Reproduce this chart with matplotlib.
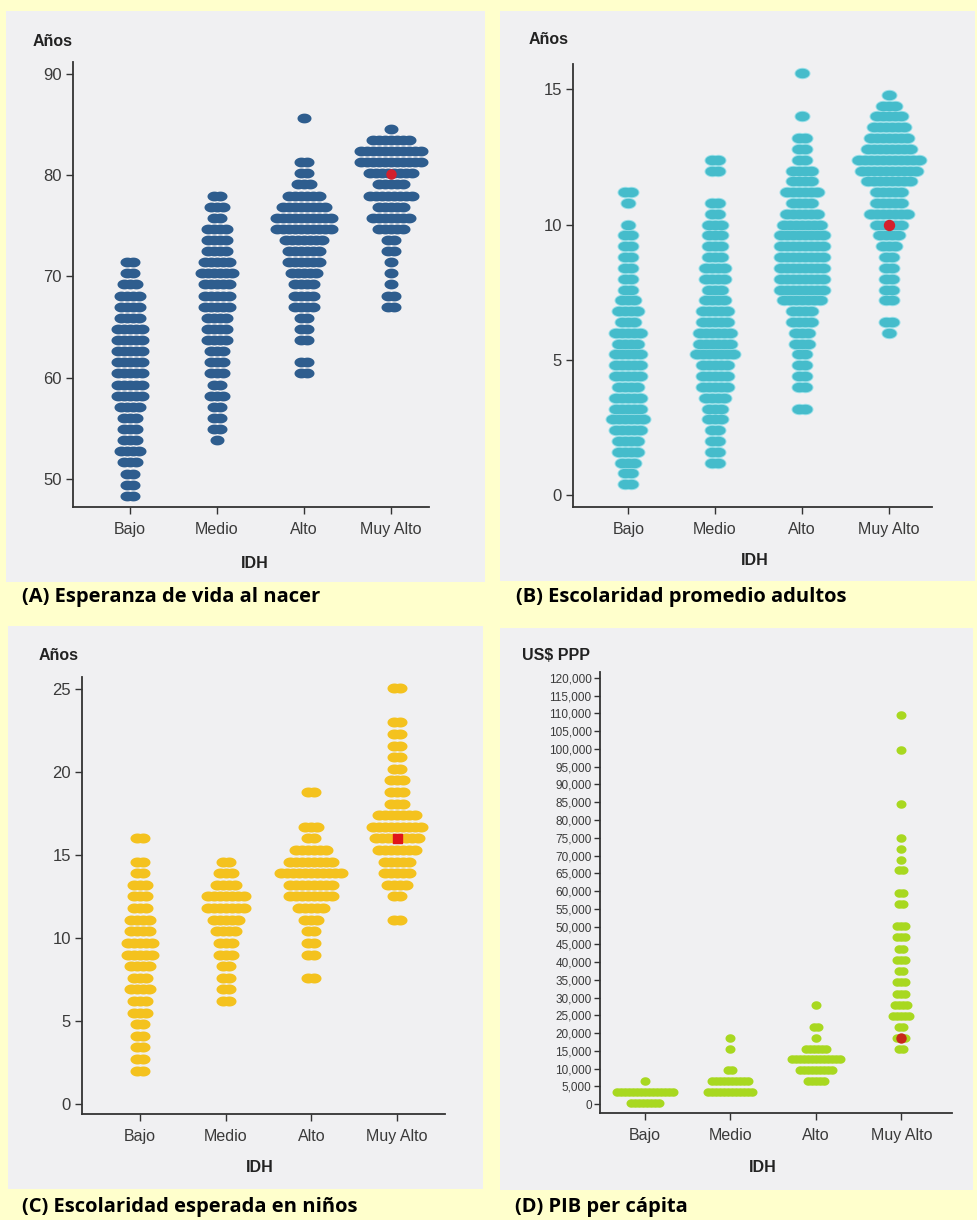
import numpy as np
import matplotlib.pyplot as plt
from matplotlib.path import Path
from matplotlib.patches import Rectangle

plt.rcParams['font.family'] = 'sans-serif'
plt.rcParams['font.sans-serif'] = ['Liberation Sans', 'DejaVu Sans']

W, H = 978, 1220
DPI = 100

categorias = ["Bajo", "Medio", "Alto", "Muy Alto"]

# (A) Esperanza de vida al nacer: filas de puntos (nivel -> puntos por fila)
a_niveles = [48.3, 49.4, 50.5, 51.6, 52.7, 53.8, 54.9, 56.0, 57.1, 58.2, 59.3, 60.4,
             61.5, 62.6, 63.7, 64.8, 65.9, 67.0, 68.1, 69.2, 70.3, 71.4, 72.5, 73.6,
             74.7, 75.8, 76.9, 78.0, 79.1, 80.2, 81.3, 82.4, 83.5, 84.6, 85.7]
a_bajo = [2, 2, 2, 3, 4, 3, 3, 3, 4, 5, 5, 5, 5, 5, 5, 5, 4, 4, 4, 3, 2, 2,
          0, 0, 0, 0, 0, 0, 0, 0, 0, 0, 0, 0, 0]
a_medio = [0, 0, 0, 0, 0, 1, 2, 2, 2, 3, 2, 3, 3, 3, 4, 4, 4, 5, 5, 5, 6, 5,
           4, 4, 4, 2, 3, 2, 0, 0, 0, 0, 0, 0, 0]
a_alto = [0, 0, 0, 0, 0, 0, 0, 0, 0, 0, 0, 2, 2, 0, 2, 2, 2, 4, 4, 4, 5, 6,
          6, 7, 10, 10, 8, 6, 3, 2, 2, 0, 0, 0, 1]
a_muy_alto = [0, 0, 0, 0, 0, 0, 0, 0, 0, 0, 0, 0, 0, 0, 0, 0, 0, 2, 2, 1, 1, 1,
              2, 2, 5, 7, 5, 8, 5, 8, 11, 11, 7, 1, 0]

# (B) Escolaridad promedio adultos
b_niveles = [0.4, 0.8, 1.2, 1.6, 2.0, 2.4, 2.8, 3.2, 3.6, 4.0, 4.4, 4.8, 5.2, 5.6,
             6.0, 6.4, 6.8, 7.2, 7.6, 8.0, 8.4, 8.8, 9.2, 9.6, 10.0, 10.4, 10.8,
             11.2, 11.6, 12.0, 12.4, 12.8, 13.2, 13.6, 14.0, 14.4, 14.8, 15.2, 15.6]
b_bajo = [2, 2, 3, 4, 4, 5, 6, 5, 5, 4, 5, 5, 5, 4, 5, 3, 4, 3, 2, 2, 2, 2, 2, 2,
          1, 0, 1, 2, 0, 0, 0, 0, 0, 0, 0, 0, 0, 0, 0]
b_medio = [0, 0, 2, 2, 2, 2, 3, 3, 4, 5, 5, 5, 7, 6, 6, 5, 5, 4, 3, 4, 4, 3, 3, 3,
           3, 2, 2, 0, 0, 2, 2, 0, 0, 0, 0, 0, 0, 0, 0]
b_alto = [0, 0, 0, 0, 0, 0, 0, 2, 0, 2, 2, 2, 2, 3, 3, 4, 4, 7, 8, 8, 8, 8, 8, 8,
          7, 6, 4, 6, 4, 4, 2, 2, 2, 0, 1, 0, 0, 0, 1]
b_muy_alto = [0, 0, 0, 0, 0, 0, 0, 0, 0, 0, 0, 0, 0, 0, 1, 2, 0, 2, 2, 2, 2, 2, 3, 4,
              5, 7, 5, 5, 8, 10, 11, 8, 7, 6, 5, 3, 1, 0, 0]

# (C) Escolaridad esperada en niños
c_niveles = [2.0, 2.7, 3.4, 4.1, 4.8, 5.5, 6.2, 6.9, 7.6, 8.3, 9.0, 9.7, 10.4, 11.1,
             11.8, 12.5, 13.2, 13.9, 14.6, 15.3, 16.0, 16.7, 17.4, 18.1, 18.8, 19.5,
             20.2, 20.9, 21.6, 22.3, 23.0, 23.7, 24.4, 25.1]
c_bajo = [2, 2, 2, 2, 2, 3, 3, 4, 3, 4, 5, 5, 4, 4, 3, 3, 3, 2, 2, 0, 2,
          0, 0, 0, 0, 0, 0, 0, 0, 0, 0, 0, 0, 0]
c_medio = [0, 0, 0, 0, 0, 0, 2, 2, 2, 2, 3, 3, 4, 5, 7, 7, 4, 3, 2,
           0, 0, 0, 0, 0, 0, 0, 0, 0, 0, 0, 0, 0, 0, 0]
c_alto = [0, 0, 0, 0, 0, 0, 0, 0, 2, 0, 2, 2, 2, 3, 5, 8, 8, 11, 8, 6, 2, 3, 0, 0, 2,
          0, 0, 0, 0, 0, 0, 0, 0, 0]
c_muy_alto = [0, 0, 0, 0, 0, 0, 0, 0, 0, 0, 0, 0, 0, 2, 0, 2, 4, 5, 5, 7, 8, 9, 7, 3,
              3, 3, 2, 2, 2, 2, 2, 0, 0, 2]

# (D) PIB per cápita (US$ PPP)
d_niveles = [200, 3400, 6500, 9700, 12600, 15500, 18600, 21800, 24900, 28000, 31100,
             34500, 37600, 40700, 43700, 47000, 50100, 56200, 59300, 65800, 68600,
             71700, 74800, 84500, 99800, 109500]
d_bajo = [8, 15, 1, 0, 0, 0, 0, 0, 0, 0, 0, 0, 0, 0, 0, 0, 0, 0, 0, 0, 0, 0, 0, 0, 0, 0]
d_medio = [0, 12, 10, 2, 0, 1, 1, 0, 0, 0, 0, 0, 0, 0, 0, 0, 0, 0, 0, 0, 0, 0, 0, 0, 0, 0]
d_alto = [0, 0, 5, 9, 13, 6, 1, 2, 0, 1, 0, 0, 0, 0, 0, 0, 0, 0, 0, 0, 0, 0, 0, 0, 0, 0]
d_muy_alto = [0, 0, 0, 0, 0, 2, 3, 2, 5, 4, 3, 3, 2, 3, 2, 3, 3, 2, 2, 2, 1, 1, 1, 1, 1, 1]

# país destacado (punto rojo, en "Muy Alto")
destacado = [80.1, 10.0, 16.0, 18600]

d_ticks = list(range(0, 120001, 5000))

fondo = '#FFFFCC'
gris = '#F0F0F2'
rojo = '#D3202C'


def caja(x0, y0, x1, y1):
    return [x0 / W, 1 - y1 / H, (x1 - x0) / W, (y1 - y0) / H]


def texto(x, y, s, **kw):
    fig.text(x / W, 1 - y / H, s, **kw)


def marcador(ratio):
    t = np.linspace(0, 2 * np.pi, 64)
    return Path(np.column_stack([np.cos(t), ratio * np.sin(t)]), closed=True)


def dibujar(ax, niveles, columnas, color, ancho, alto, paso, halo=None):
    x0, x1 = ax.get_xlim()
    px_unidad = ax.get_position().width * W / (x1 - x0)
    d = paso / px_unidad
    m = marcador(alto / ancho)
    for i, cuentas in enumerate(columnas):
        xs, ys = [], []
        for nivel, n in zip(niveles, cuentas):
            for k in range(n):
                xs.append(i + (k - (n - 1) / 2) * d)
                ys.append(nivel)
        if halo:
            mh = marcador((alto + 2) / (ancho + 2))
            ax.scatter(xs, ys, s=((ancho + 2) * 72 / DPI) ** 2, marker=mh,
                       color=halo, linewidths=0, zorder=2)
        ax.scatter(xs, ys, s=(ancho * 72 / DPI) ** 2, marker=m, color=color,
                   linewidths=0, zorder=3)


def estilo(ax, xlim, ylim, yticks, ylabels, fs_y):
    ax.set_facecolor('none')
    ax.set_xlim(*xlim)
    ax.set_ylim(*ylim)
    for sp in ['top', 'right']:
        ax.spines[sp].set_visible(False)
    for sp in ['left', 'bottom']:
        ax.spines[sp].set_color('#333333')
        ax.spines[sp].set_linewidth(1.3)
    ax.set_xticks(range(4))
    ax.set_xticklabels(categorias)
    ax.set_yticks(yticks)
    ax.set_yticklabels(ylabels)
    ax.tick_params(axis='both', direction='out', length=5, width=1, color='#333333',
                   labelcolor='#3a3a3a')
    ax.tick_params(axis='x', labelsize=11.5, pad=6)
    ax.tick_params(axis='y', labelsize=fs_y, pad=3)


fig = plt.figure(figsize=(W / DPI, H / DPI), dpi=DPI, facecolor=fondo)

for x0, y0, x1, y1 in [(6, 11, 485, 582), (500, 11, 975, 581),
                       (8, 626, 483, 1189), (500, 628, 973, 1190)]:
    fig.add_artist(Rectangle((x0 / W, 1 - y1 / H), (x1 - x0) / W, (y1 - y0) / H,
                             transform=fig.transFigure, facecolor=gris,
                             edgecolor='none', zorder=0))

ax_a = fig.add_axes(caja(73, 62, 429, 507))
estilo(ax_a, (-0.655, 3.437), (47.2, 91.2), [50, 60, 70, 80, 90],
       ['50', '60', '70', '80', '90'], 12)
dibujar(ax_a, a_niveles, [a_bajo, a_medio, a_alto, a_muy_alto], '#2E5D8E', 14, 9.8, 6)
ax_a.scatter([3], [destacado[0]], s=(9 * 0.72) ** 2, color=rojo, zorder=4)

ax_b = fig.add_axes(caja(573, 64, 932, 507))
estilo(ax_b, (-0.637, 3.50), (-0.44, 15.94), [0, 5, 10, 15], ['0', '5', '10', '15'], 12)
dibujar(ax_b, b_niveles, [b_bajo, b_medio, b_alto, b_muy_alto], '#45BCCB', 14, 9.4, 6,
        halo='#9ADFE8')
ax_b.scatter([3], [destacado[1]], s=(10 * 0.72) ** 2, color=rojo, zorder=4)

ax_c = fig.add_axes(caja(82, 677, 445, 1114))
estilo(ax_c, (-0.68, 3.56), (-0.62, 25.74), [0, 5, 10, 15, 20, 25],
       ['0', '5', '10', '15', '20', '25'], 12)
dibujar(ax_c, c_niveles, [c_bajo, c_medio, c_alto, c_muy_alto], '#F4C21E', 14, 10, 6)
ax_c.scatter([3], [destacado[2]], s=(9 * 0.72) ** 2, marker='s', color='#E0151A', zorder=4)

ax_d = fig.add_axes(caja(600, 672, 952, 1113))
estilo(ax_d, (-0.52, 3.59), (-2535, 121690), d_ticks,
       ['{:,}'.format(v) for v in d_ticks], 8.5)
ax_d.tick_params(axis='y', length=4, pad=2)
dibujar(ax_d, d_niveles, [d_bajo, d_medio, d_alto, d_muy_alto], '#A8D820', 10, 8.5, 4)
ax_d.scatter([3], [destacado[3]], s=(9 * 0.72) ** 2, color='#C8281A', zorder=4)

lab = dict(fontsize=11.5, fontweight='bold', color='#222222', va='center')
texto(33, 42, 'Años', ha='left', **lab)
texto(529, 40, 'Años', ha='left', **lab)
texto(39, 655, 'Años', ha='left', **lab)
texto(522, 655, 'US$ PPP', ha='left', **lab)
texto(255, 563, 'IDH', ha='center', **lab)
texto(755, 560, 'IDH', ha='center', **lab)
texto(260, 1167, 'IDH', ha='center', **lab)
texto(763, 1168, 'IDH', ha='center', **lab)

cap = dict(fontsize=14.5, fontweight='bold', fontstretch='normal', color='black',
           family=['Open Sans', 'DejaVu Sans'], va='center', ha='left')
texto(22, 597, '(A) Esperanza de vida al nacer', **cap)
texto(516, 597, '(B) Escolaridad promedio adultos', **cap)
texto(22, 1207, '(C) Escolaridad esperada en niños', **cap)
texto(515, 1207, '(D) PIB per cápita', **cap)

fig.savefig('out.png', dpi=DPI, facecolor=fondo)
